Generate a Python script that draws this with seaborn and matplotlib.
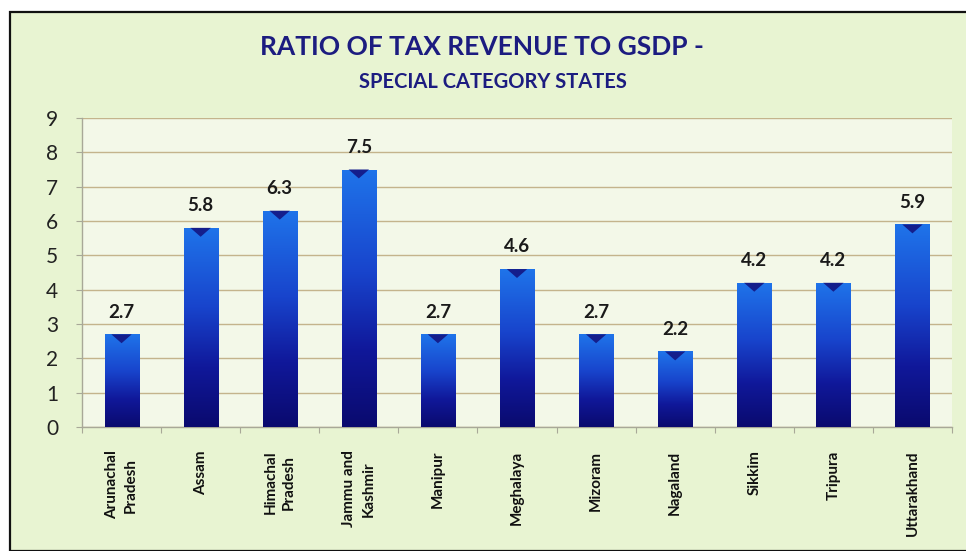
import numpy as np
import pandas as pd
import matplotlib
matplotlib.use("Agg")
import matplotlib.pyplot as plt
from matplotlib.colors import LinearSegmentedColormap
from matplotlib.patches import Polygon, Rectangle
import seaborn as sns

states = ["Arunachal\nPradesh", "Assam", "Himachal\nPradesh", "Jammu and\nKashmir",
          "Manipur", "Meghalaya", "Mizoram", "Nagaland", "Sikkim", "Tripura", "Uttarakhand"]
ratios = [2.7, 5.8, 6.3, 7.5, 2.7, 4.6, 2.7, 2.2, 4.2, 4.2, 5.9]
yticks = list(range(0, 10))
title = "RATIO OF TAX REVENUE TO GSDP -"
subtitle = "SPECIAL CATEGORY STATES"

df = pd.DataFrame({"state": states, "ratio": ratios})

sns.set_theme(style="white")
plt.rcParams["font.family"] = ["Lato", "DejaVu Sans"]

W, H = 966, 551
fig = plt.figure(figsize=(W / 100, H / 100), dpi=100, facecolor="white")
outer_bg = "#e8f4d2"
fig.patches.append(Rectangle((10 / W, 0), 1.0, 1 - 12 / H, transform=fig.transFigure,
                             facecolor=outer_bg, edgecolor="#111111", linewidth=1.6, zorder=-10))

ax = fig.add_axes([82 / W, 1 - 427 / H, (952 - 82) / W, (427 - 118) / H])
ax.set_facecolor("#f3f8e8")

sns.barplot(data=df, x="state", y="ratio", ax=ax, width=0.43, color="#1a3cc0",
            saturation=1, edgecolor="none", linewidth=0, zorder=3)

ax.set_ylim(0, 9)
xlim = ax.get_xlim()

cmap = LinearSegmentedColormap.from_list(
    "bar", [(0.0, "#0a0a6e"), (0.3, "#10189a"), (0.6, "#1844cc"), (1.0, "#1f74ea")])
grad = np.linspace(0, 1, 256).reshape(-1, 1)
grad = np.repeat(grad, 4, axis=1)

for p in list(ax.patches):
    x0 = p.get_x()
    w = p.get_width()
    h = p.get_height()
    im = ax.imshow(grad, extent=[x0, x0 + w, 0, h], origin="lower", aspect="auto",
                   cmap=cmap, zorder=4, interpolation="bilinear")
    im.set_clip_path(p)
    p.set_facecolor("none")
    tri = Polygon([[x0 + 0.2 * w, h], [x0 + 0.8 * w, h], [x0 + 0.5 * w, h - 0.26]],
                  closed=True, facecolor="#141e8c", edgecolor="none", zorder=5)
    ax.add_patch(tri)
    ax.text(x0 + w / 2, h + 0.4, f"{h:.1f}", ha="center", va="bottom",
            fontsize=13.5, fontweight="bold", color="#1a1a1a", zorder=6)

ax.set_xlim(xlim)
ax.set_ylim(0, 9)
ax.set_yticks(yticks)
ax.yaxis.grid(True, color="#c4b48c", linewidth=1.0, zorder=0)
ax.set_axisbelow(True)
ax.set_xlabel("")
ax.set_ylabel("")
for s in ["top", "right"]:
    ax.spines[s].set_visible(False)
for s in ["left", "bottom"]:
    ax.spines[s].set_color("#a8a898")
    ax.spines[s].set_linewidth(1.0)

ax.set_xticks(np.arange(len(states) + 1) - 0.5, minor=True)
ax.tick_params(axis="x", which="minor", length=4, width=0.8, color="#a8a898", bottom=True)
ax.tick_params(axis="y", labelsize=15, colors="#a8a898", labelcolor="#222222",
               length=4, width=0.8, left=True, pad=13)
ax.tick_params(axis="x", which="major", length=0, pad=17)
for lbl in ax.get_xticklabels():
    lbl.set_rotation(90)
    lbl.set_fontsize(11)
    lbl.set_fontweight("bold")
    lbl.set_color("#111111")
    lbl.set_ha("center")
    lbl.set_va("top")
    lbl.set_multialignment("center")
    lbl.set_linespacing(1.45)

fig.text(482 / W, 1 - 47 / H, title, ha="center", va="center", fontsize=19,
         fontweight="bold", color="#1c1c80")
fig.text(493 / W, 1 - 82 / H, subtitle, ha="center", va="center", fontsize=14.5,
         fontweight="bold", color="#1c1c80")

fig.savefig("out.png", dpi=100, facecolor=fig.get_facecolor())
